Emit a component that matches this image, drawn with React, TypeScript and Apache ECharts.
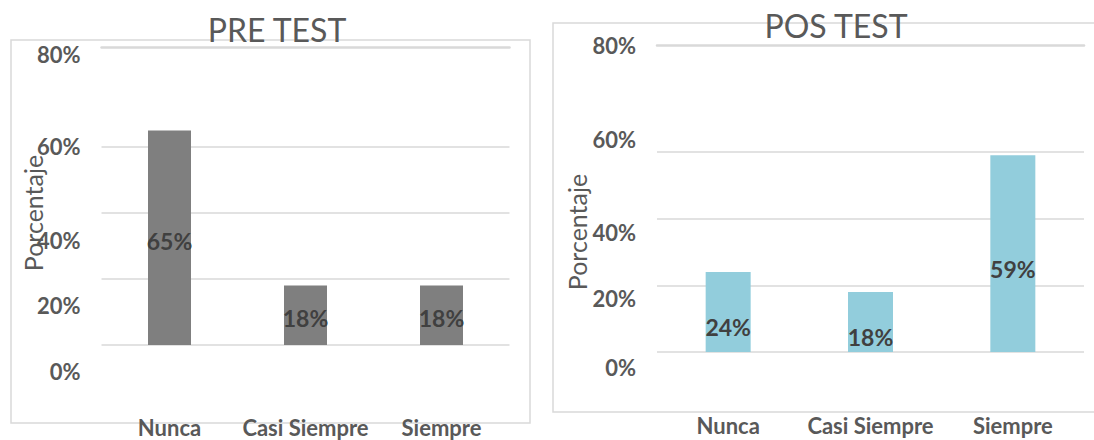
import { useEffect, useRef } from 'react';
import * as echarts from 'echarts';

const categories = ['Nunca', 'Casi Siempre', 'Siempre'];
const preValues = [65, 18, 18];
const posValues = [24, 18, 59];
const yTicks = [0, 20, 40, 60, 80];
const preTitle = 'PRE TEST';
const posTitle = 'POS TEST';
const axisName = 'Porcentaje';

const FONT = 'Lato, "Open Sans", sans-serif';
const GRID = '#d9d9d9';
const TEXT = '#595959';
const LABEL = '#404040';

// vertical displacement of each tick label relative to its gridline (as in the reference)
const preShift: Record<number, number> = { 0: 26, 20: 27, 40: 28, 60: 0, 80: -26 };
const posShift: Record<number, number> = { 0: 15, 20: 13, 40: 14, 60: -13, 80: -40 };

function richFor(shift: Record<number, number>) {
  const rich: Record<string, any> = {};
  yTicks.forEach((v) => {
    const d = shift[v];
    rich['t' + v] = {
      fontFamily: FONT,
      fontSize: 22,
      fontWeight: 'bold',
      color: TEXT,
      padding: d >= 0 ? [2 * d, 0, 0, 0] : [0, 0, -2 * d, 0],
    };
  });
  return rich;
}

const tickFormatter = (v: number) =>
  yTicks.includes(Math.round(v)) && Math.abs(v - Math.round(v)) < 1e-6 ? `{t${Math.round(v)}|${Math.round(v)}%}` : '';

function yAxisFor(gridIndex: number, max: number, shift: Record<number, number>) {
  return {
    type: 'value',
    gridIndex,
    min: 0,
    max,
    interval: 20,
    axisLine: { show: false },
    axisTick: { show: false },
    axisLabel: { margin: 21, formatter: tickFormatter, rich: richFor(shift) },
    splitLine: {
      show: true,
      showMinLine: true,
      showMaxLine: false,
      lineStyle: {
        color: [GRID, GRID, GRID, GRID, 'rgba(0,0,0,0)', 'rgba(0,0,0,0)'],
        width: 1.5,
      },
    },
  };
}

function bottomAxis(gridIndex: number, margin: number) {
  return {
    type: 'category',
    gridIndex,
    data: categories,
    axisLine: { show: false },
    axisTick: { show: false },
    axisLabel: {
      interval: 0,
      hideOverlap: false,
      margin,
      fontFamily: FONT,
      fontSize: 22,
      fontWeight: 'bold',
      color: TEXT,
    },
  };
}

function topAxis(gridIndex: number) {
  return {
    type: 'category',
    gridIndex,
    position: 'top',
    data: categories,
    axisLine: { show: true, lineStyle: { color: GRID, width: 2.5 } },
    axisTick: { show: false },
    axisLabel: { show: false },
  };
}

function barSeries(idx: number, values: number[], color: string, width: number, offsetY: number) {
  return {
    type: 'bar',
    xAxisIndex: idx * 2,
    yAxisIndex: idx,
    data: values,
    barWidth: width,
    itemStyle: { color },
    label: {
      show: true,
      position: 'inside',
      offset: [0, offsetY],
      formatter: '{c}%',
      fontFamily: FONT,
      fontSize: 23,
      fontWeight: 'bold',
      color: LABEL,
    },
  };
}

export default function App() {
  const ref = useRef<HTMLDivElement>(null);

  useEffect(() => {
    if (!ref.current) return;
    const chart = echarts.init(ref.current, null, { renderer: 'svg' });
    chart.setOption({
      animation: false,
      backgroundColor: '#ffffff',
      title: [
        {
          text: preTitle,
          left: 272,
          top: 8,
          textAlign: 'center',
          textStyle: { fontFamily: FONT, fontSize: 32, fontWeight: 'normal', color: TEXT },
        },
        {
          text: posTitle,
          left: 831,
          top: 4,
          textAlign: 'center',
          textStyle: { fontFamily: FONT, fontSize: 32, fontWeight: 'normal', color: TEXT },
        },
      ],
      grid: [
        { left: 101.5, right: 1094 - 509.5, top: 47, bottom: 440 - 345, containLabel: false },
        { left: 657, right: 1094 - 1084, top: 45, bottom: 440 - 352, containLabel: false },
      ],
      xAxis: [bottomAxis(0, 71), topAxis(0), bottomAxis(1, 62), topAxis(1)],
      yAxis: [yAxisFor(0, 90.3, preShift), yAxisFor(1, 92.1, posShift)],
      series: [
        barSeries(0, preValues, '#7f7f7f', 43, 3),
        barSeries(1, posValues, '#92cddc', 45, 15),
      ],
      graphic: [
        {
          type: 'rect',
          z: -1,
          shape: { x: 11, y: 40, width: 519, height: 383 },
          style: { fill: 'none', stroke: GRID, lineWidth: 1.5 },
        },
        {
          type: 'rect',
          z: -1,
          shape: { x: 553, y: 23, width: 600, height: 389 },
          style: { fill: 'none', stroke: GRID, lineWidth: 1.5 },
        },
        {
          type: 'text',
          x: 33,
          y: 213,
          rotation: Math.PI / 2,
          style: {
            text: axisName,
            align: 'center',
            verticalAlign: 'middle',
            fontFamily: FONT,
            fontSize: 25,
            fill: TEXT,
          },
        },
        {
          type: 'text',
          x: 577,
          y: 232,
          rotation: Math.PI / 2,
          style: {
            text: axisName,
            align: 'center',
            verticalAlign: 'middle',
            fontFamily: FONT,
            fontSize: 25,
            fill: TEXT,
          },
        },
      ],
    });
    return () => chart.dispose();
  }, []);

  return (
    <div
      ref={ref}
      style={{ position: 'absolute', left: 0, top: 0, width: 1094, height: 440 }}
    />
  );
}
